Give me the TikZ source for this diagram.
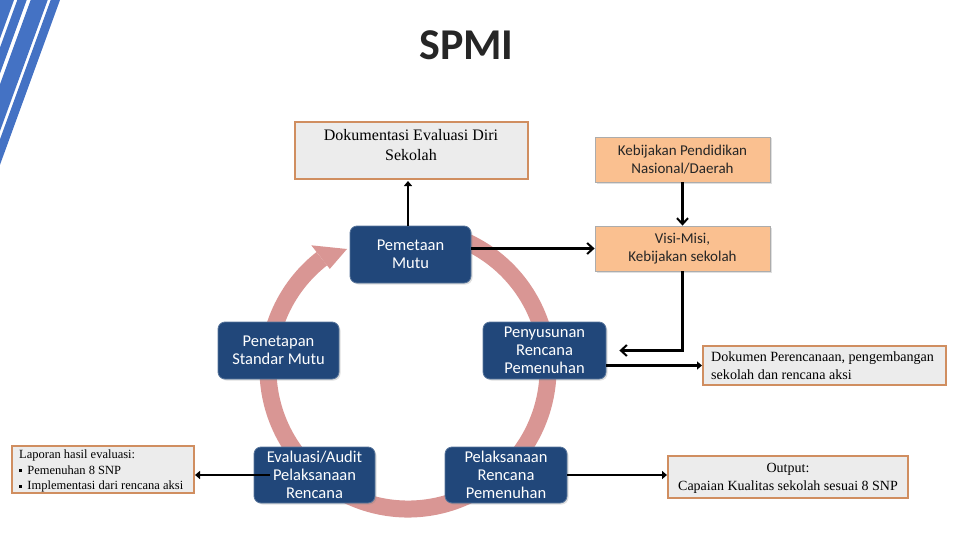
\documentclass[tikz,border=0pt]{standalone}
\usepackage{fontspec}
\setmainfont{Liberation Serif}
\newfontfamily\carl{Carlito}
\usetikzlibrary{shadows,arrows.meta}
\definecolor{boxblue}{RGB}{33,71,122}
\definecolor{ringc}{RGB}{217,150,148}
\definecolor{orfill}{RGB}{250,192,144}
\definecolor{docfill}{RGB}{236,236,236}
\definecolor{docborder}{RGB}{208,142,96}
\definecolor{stripec}{RGB}{68,114,196}
\definecolor{titlec}{RGB}{38,38,38}
\tikzset{
  bluebox/.style={rounded corners=7pt, fill=boxblue, draw=boxblue!75!white, line width=0.8pt,
    text=white, font=\carl\fontsize{16.5}{18}\selectfont, align=center, inner sep=0pt,
    drop shadow={opacity=0.25, shadow xshift=1.5pt, shadow yshift=-1.5pt}},
  orbox/.style={fill=orfill, draw=gray!65, line width=0.8pt, text=titlec,
    font=\carl\fontsize{15}{18}\selectfont, align=center, inner sep=0pt,
    drop shadow={opacity=0.25, shadow xshift=1.5pt, shadow yshift=-1.5pt}},
  docbox/.style={fill=docfill, draw=docborder, line width=2pt, inner sep=0pt},
  doctext/.style={text=black, inner sep=0pt},
  conn/.style={line width=2.5pt, black},
  chev/.style={-{Straight Barb[length=6pt,width=11pt,line width=2pt]}},
  tri/.style={-{Triangle[length=5pt,width=8pt]}},
}
\begin{document}
\begin{tikzpicture}[x=1pt,y=-1pt]
\useasboundingbox (0,0) rectangle (960,540);
% stripes
\fill[stripec] (-1,0) -- (14,0) -- (0,38.5) -- (-1,38.5) -- cycle;
\fill[stripec] (17.3,0) -- (26.7,0) -- (0,73.4) -- (0,47.5) -- cycle;
\fill[stripec] (30.7,0) -- (47.7,0) -- (0,131) -- (0,84.3) -- cycle;
\fill[stripec] (50.7,0) -- (60,0) -- (0,164.8) -- (0,139.3) -- cycle;
% title
\node[text=titlec, font=\carl\bfseries\fontsize{44}{50}\selectfont, inner sep=0pt] (title) at (466.5,45) {SPMI};
% ring
\draw[ringc, line width=17pt] ([shift={(-70:140)}]408,369) arc[start angle=-70, end angle=232, radius=140];
\fill[ringc] (329.8,268.9) -- (311.3,245.3) -- (347,249) -- cycle;
% blue boxes
\node[bluebox, minimum width=121pt, minimum height=57pt] (pem) at (410.5,254.5) {Pemetaan\\Mutu};
\node[bluebox, minimum width=121pt, minimum height=57pt] (pen) at (278.5,350.5) {Penetapan\\Standar Mutu};
\node[bluebox, minimum width=123pt, minimum height=57pt] (peny) at (544.5,350.5) {Penyusunan\\Rencana\\Pemenuhan};
\node[bluebox, minimum width=121pt, minimum height=56pt] (eva) at (314.5,475) {Evaluasi/Audit\\Pelaksanaan\\Rencana};
\node[bluebox, minimum width=122pt, minimum height=56pt] (pel) at (506,475) {Pelaksanaan\\Rencana\\Pemenuhan};
% orange boxes
\node[orbox, minimum width=175pt, minimum height=45pt] (keb) at (682.5,159.5) {Kebijakan Pendidikan\\Nasional/Daerah};
\node[orbox, minimum width=175pt, minimum height=45pt] (visi) at (682.5,248.5) {Visi-Misi,\\Kebijakan sekolah};
% document boxes
\node[docbox, minimum width=233pt, minimum height=57pt] (dok) at (411.5,150.5) {};
\node[doctext, font=\fontsize{16}{20}\selectfont, align=center] (dokt) at (411,145) {Dokumentasi Evaluasi Diri\\Sekolah};
\node[docbox, minimum width=243pt, minimum height=39pt] (dokper) at (824.5,365.5) {};
\node[doctext, font=\fontsize{14.1}{18}\selectfont, align=left, anchor=west] (dokpert) at (711,366) {Dokumen Perencanaan, pengembangan\\sekolah dan rencana aksi};
\node[docbox, minimum width=240pt, minimum height=42pt] (out) at (788,477) {};
\node[doctext, font=\fontsize{14}{18}\selectfont, align=center] (outt) at (788,478) {Output:\\Capaian Kualitas sekolah sesuai 8 SNP};
\node[docbox, minimum width=182pt, minimum height=47pt] (lap) at (103,469.5) {};
\node[doctext, font=\fontsize{12.5}{15.5}\selectfont, align=left, anchor=west] (lapt) at (19,471) {Laporan hasil evaluasi:\\\raisebox{2pt}{\rule{3pt}{3pt}}\, Pemenuhan 8 SNP\\\raisebox{2pt}{\rule{3pt}{3pt}}\, Implementasi dari rencana aksi};
% connectors
\draw[conn, tri] (pem.north -| 408,0) -- (408,181);
\draw[conn, chev] (pem.east |- visi.west) -- (visi.west);
\draw[conn, chev] (keb.south) -- (visi.north);
\draw[conn, chev, shorten >=13pt] (visi.south) |- (peny.east);
\draw[conn, tri] (peny.east |- dokper.west) -- (dokper.west);
\draw[conn, tri] ([xshift=16pt]eva.west) -- (lap.east |- eva.west);
\draw[conn, tri] (pel.east) -- (out.west |- pel.east);
\end{tikzpicture}
\end{document}
